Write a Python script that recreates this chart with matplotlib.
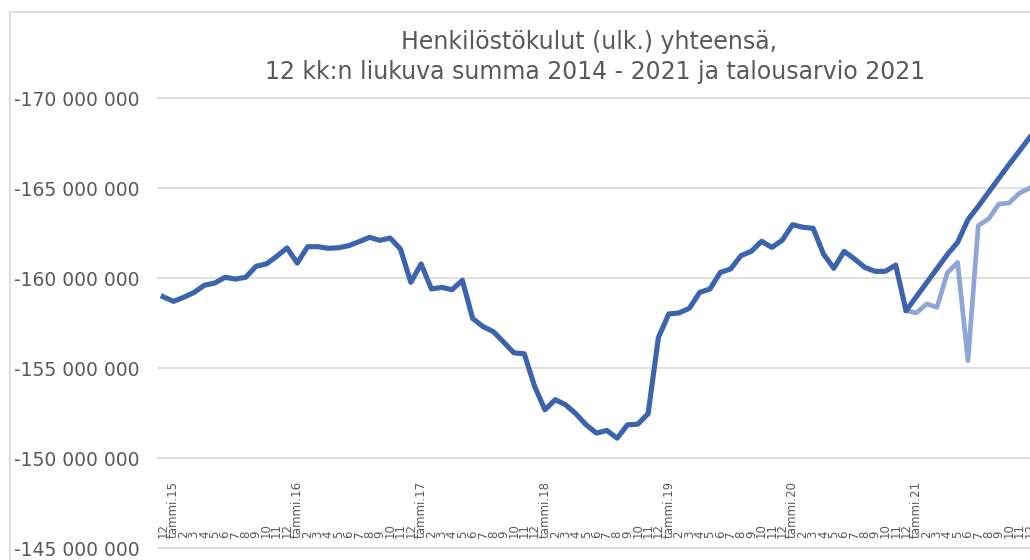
import matplotlib
matplotlib.use("Agg")
import matplotlib.pyplot as plt
import matplotlib.transforms as mtransforms
from matplotlib.patches import Rectangle
import numpy as np

# Kuukausien nimet: 12/2014 ... 12/2021
kuukaudet = ["12"]
for vuosi in range(15, 22):
    kuukaudet += ["tammi.%d" % vuosi] + [str(m) for m in range(2, 13)]

# 12 kk liukuva summa (milj. euroa), toteuma + ennuste 2021
toteuma = [
    -158.96, -158.70, -158.93, -159.20, -159.60, -159.72, -160.04, -159.94, -160.04, -160.65,
    -160.78, -161.20, -161.67, -160.83, -161.74, -161.74, -161.65, -161.68, -161.80, -162.02,
    -162.26, -162.09, -162.22, -161.61, -159.76, -160.78, -159.39, -159.48, -159.35, -159.87,
    -157.75, -157.30, -157.02, -156.44, -155.84, -155.79, -153.98, -152.68, -153.24, -152.96,
    -152.46, -151.84, -151.38, -151.53, -151.10, -151.84, -151.88, -152.46, -156.69, -158.00,
    -158.06, -158.32, -159.20, -159.39, -160.31, -160.50, -161.24, -161.48, -162.04, -161.70,
    -162.10, -162.96, -162.82, -162.76, -161.33, -160.54, -161.48, -161.06, -160.59, -160.37,
    -160.37, -160.72, -158.18, -158.96, -159.74, -160.52, -161.30, -161.98, -163.24, -163.98,
    -164.76, -165.54, -166.32, -167.06, -167.82,
]

# talousarvio 2021 (alkaa 12/2020)
talousarvio = [np.nan] * 72 + [
    -158.18, -158.06, -158.56, -158.37, -160.28, -160.87, -155.41, -162.91, -163.28, -164.11,
    -164.17, -164.72, -165.00,
]

y_tikit = [-170e6, -165e6, -160e6, -155e6, -150e6, -145e6]

tumma = "#3B63AE"
vaalea = "#8EA6D6"
harmaa = "#595959"
viiva = "#D9D9D9"

W, H = 1030, 560
fig = plt.figure(figsize=(W / 100, H / 100), dpi=100)
ax = fig.add_axes([158 / W, 1 - 548 / H, (1035 - 158) / W, (548 - 98) / H])

x = np.arange(len(kuukaudet))
ax.plot(x, np.array(talousarvio) * 1e6, color=vaalea, lw=3.4, solid_joinstyle="round", zorder=3)
ax.plot(x, np.array(toteuma) * 1e6, color=tumma, lw=3.7, solid_joinstyle="round", zorder=4)

ax.set_xlim(-0.5, len(kuukaudet) - 0.5)
ax.set_ylim(-145e6, -170e6)
for s in ax.spines.values():
    s.set_visible(False)
ax.set_xticks([])
ax.set_yticks([])

# vaakaviivat
for v in y_tikit:
    ax.axhline(v, color=viiva, lw=1.2, clip_on=False, zorder=1)

# y-akselin tekstit
tr = mtransforms.blended_transform_factory(fig.transFigure, ax.transData)
for v in y_tikit:
    teksti = "{:,.0f}".format(v).replace(",", " ")
    ax.text(14 / W, v, teksti, transform=tr, ha="left", va="center_baseline",
            fontsize=13.5, color=harmaa, clip_on=False)

# x-akselin tekstit (pystyssa, akselin yläpuolella)
trx = ax.get_xaxis_transform()
for i, lab in enumerate(kuukaudet):
    ax.text(i, 10 / 450, lab, transform=trx, rotation=90, ha="center", va="bottom",
            fontsize=8.5, color=harmaa, clip_on=False)

fig.text(589 / W, 1 - 42 / H, "Henkilöstökulut (ulk.) yhteensä,", ha="center", va="center",
         fontsize=17, color=harmaa)
fig.text(595 / W, 1 - 72 / H, "12 kk:n liukuva summa 2014 - 2021 ja talousarvio 2021",
         ha="center", va="center", fontsize=17, color=harmaa)

# kaavion reunus
fig.add_artist(Rectangle((9.5 / W, -0.1), 1.2, 1 - 12 / H + 0.1, transform=fig.transFigure,
                         fill=False, edgecolor=viiva, lw=1.2, clip_on=False))

fig.savefig("out.png", dpi=100)
